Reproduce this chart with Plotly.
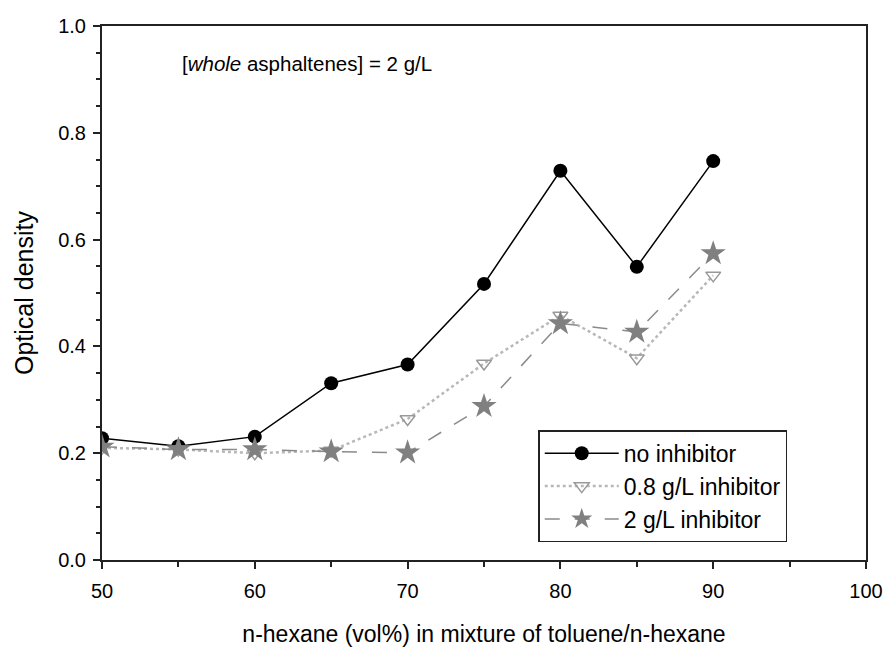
import plotly.graph_objects as go

x_vals = [50, 55, 60, 65, 70, 75, 80, 85, 90]
no_inhibitor = [0.228, 0.213, 0.231, 0.331, 0.366, 0.517, 0.729, 0.549, 0.747]
inhib_08 = [0.210, 0.207, 0.200, 0.205, 0.264, 0.368, 0.458, 0.378, 0.533]
inhib_2 = [0.212, 0.207, 0.207, 0.203, 0.201, 0.288, 0.443, 0.427, 0.574]

x_ticks = [50, 60, 70, 80, 90, 100]
y_ticks = [0.0, 0.2, 0.4, 0.6, 0.8, 1.0]

FONT = "Liberation Sans, Arial, sans-serif"

fig = go.Figure()
fig.add_trace(go.Scatter(
    x=x_vals, y=no_inhibitor, name="no inhibitor", mode="lines+markers",
    line=dict(color="black", width=1.5),
    marker=dict(symbol="circle", size=14, color="black")))
fig.add_trace(go.Scatter(
    x=x_vals, y=inhib_08, name="0.8 g/L inhibitor", mode="lines+markers",
    line=dict(color="#b8b8b8", width=2.5, dash="dot"),
    marker=dict(symbol="triangle-down-open", size=13, color="#999999", line=dict(width=1.5, color="#999999"))))
fig.add_trace(go.Scatter(
    x=x_vals, y=inhib_2, name="2 g/L inhibitor", mode="lines+markers",
    line=dict(color="#8a8a8a", width=1.5, dash="longdash"),
    marker=dict(symbol="star", size=19, color="#808080", line=dict(width=0))))

axis_common = dict(
    showline=True, linecolor="#222222", linewidth=2, mirror=True,
    ticks="outside", ticklen=7, tickwidth=1.5, tickcolor="#222222",
    showgrid=False, zeroline=False, automargin=False,
    tickfont=dict(family=FONT, size=20, color="black"),
)

fig.update_xaxes(
    range=[50, 100], tickvals=x_ticks, ticktext=[str(v) for v in x_ticks],
    minor=dict(ticks="outside", ticklen=5, tickwidth=1.5, tickcolor="#222222", dtick=5, tick0=50),
    ticklabelstandoff=5,
    title=dict(text="n-hexane (vol%) in mixture of toluene/n-hexane",
               font=dict(family=FONT, size=23, color="black"), standoff=30),
    **axis_common)
fig.update_yaxes(
    range=[0, 1.0], tickvals=y_ticks, ticktext=[f"{v:.1f}" for v in y_ticks],
    minor=dict(ticks="outside", ticklen=4, tickwidth=1.5, tickcolor="#222222", dtick=0.05, tick0=0),
    ticklabelstandoff=3,
    title=dict(text="Optical density", font=dict(family=FONT, size=25, color="black"), standoff=17),
    **axis_common)

fig.add_annotation(
    x=0.102, y=0.929, xref="paper", yref="paper", xanchor="left", yanchor="middle",
    text="[<i>whole</i> asphaltenes] = 2 g/L", showarrow=False,
    font=dict(family=FONT, size=20.5, color="black"))

fig.update_layout(
    width=885, height=647,
    margin=dict(l=102, r=19, t=26, b=87),
    plot_bgcolor="white", paper_bgcolor="white",
    showlegend=True,
    legend=dict(
        x=0.571, y=0.243, xanchor="left", yanchor="top",
        bgcolor="white", bordercolor="#222222", borderwidth=1.5,
        font=dict(family=FONT, size=23, color="black"),
        itemwidth=74, tracegroupgap=0,
    ),
)

fig.write_html("out.html")
